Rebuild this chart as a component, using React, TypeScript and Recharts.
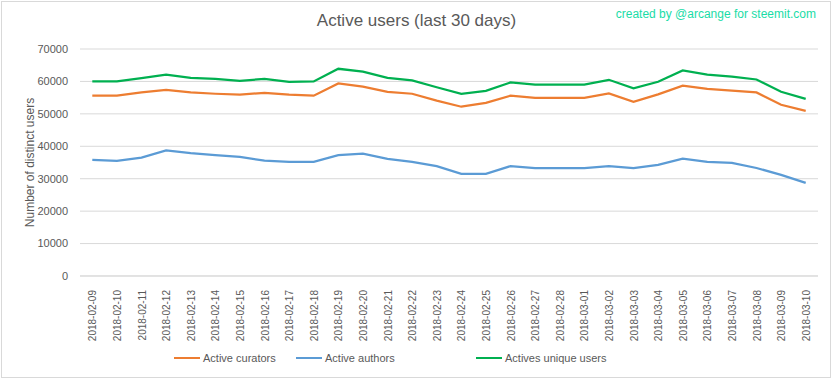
import React from 'react';
import { LineChart, Line, XAxis, YAxis, CartesianGrid, Legend } from 'recharts';

const dates = [
  '2018-02-09', '2018-02-10', '2018-02-11', '2018-02-12', '2018-02-13', '2018-02-14',
  '2018-02-15', '2018-02-16', '2018-02-17', '2018-02-18', '2018-02-19', '2018-02-20',
  '2018-02-21', '2018-02-22', '2018-02-23', '2018-02-24', '2018-02-25', '2018-02-26',
  '2018-02-27', '2018-02-28', '2018-03-01', '2018-03-02', '2018-03-03', '2018-03-04',
  '2018-03-05', '2018-03-06', '2018-03-07', '2018-03-08', '2018-03-09', '2018-03-10',
];

const curators = [
  55600, 55600, 56600, 57400, 56600, 56200, 55900, 56500, 55900, 55600,
  59400, 58400, 56800, 56200, 54100, 52200, 53400, 55600, 54900, 54900,
  54900, 56300, 53700, 56000, 58700, 57700, 57200, 56600, 52800, 50900,
];

const authors = [
  35800, 35500, 36500, 38700, 37900, 37300, 36700, 35600, 35200, 35200,
  37300, 37700, 36100, 35200, 33900, 31500, 31500, 33900, 33300, 33300,
  33300, 33900, 33300, 34300, 36200, 35200, 34900, 33300, 31200, 28700,
];

const uniqueUsers = [
  60000, 60000, 61000, 62100, 61100, 60800, 60200, 60800, 59900, 60000,
  63900, 63000, 61100, 60300, 58200, 56200, 57100, 59700, 59000, 59000,
  59000, 60500, 57900, 59900, 63400, 62100, 61500, 60600, 56800, 54600,
];

const yTicks = [0, 10000, 20000, 30000, 40000, 50000, 60000, 70000];

const series = [
  { key: 'curators', name: 'Active curators', color: '#ED7D31', w: 122 },
  { key: 'authors', name: 'Active authors', color: '#5B9BD5', w: 180 },
  { key: 'unique', name: 'Actives unique users', color: '#00B050', w: 140 },
];

const data = dates.map((d, i) => ({
  date: d,
  curators: curators[i],
  authors: authors[i],
  unique: uniqueUsers[i],
}));

const FONT = '"Liberation Sans", Arial, sans-serif';
const TEXT = '#595959';

const DateTick = (props: any) => {
  const { x, y, payload } = props;
  return (
    <text
      transform={`translate(${x + 4},${y + 6}) rotate(-90)`}
      textAnchor="end"
      fontSize={10}
      fill={TEXT}
      fontFamily={FONT}
    >
      {payload.value}
    </text>
  );
};

const LegendContent = () => (
  <div style={{ display: 'flex', alignItems: 'center', height: 27, paddingLeft: 174, fontFamily: FONT, fontSize: 11, color: TEXT }}>
    {series.map(s => (
      <div key={s.key} style={{ display: 'flex', alignItems: 'center', width: s.w }}>
        <span style={{ display: 'inline-block', width: 26, height: 2, background: s.color, marginRight: 3 }} />
        <span>{s.name}</span>
      </div>
    ))}
  </div>
);

export default function App() {
  return (
    <div style={{ position: 'absolute', left: 0, top: 0, width: 833, height: 379, background: '#fff' }}>
      <div style={{ position: 'absolute', left: 1, top: 1, width: 828, height: 375, border: '1px solid #d9d9d9' }} />
      <div style={{ position: 'absolute', left: 0, width: 833, top: 11, textAlign: 'center', fontFamily: FONT, fontSize: 17, color: TEXT }}>
        Active users (last 30 days)
      </div>
      <div style={{ position: 'absolute', right: 17, top: 7, fontFamily: FONT, fontSize: 12, color: '#19DCA6' }}>
        created by @arcange for steemit.com
      </div>
      <div style={{ position: 'absolute', left: 0, top: 0 }}>
        <LineChart width={833} height={379} data={data} margin={{ top: 49, right: 15, bottom: 8, left: 0 }}>
          <CartesianGrid vertical={false} stroke="#d9d9d9" />
          <XAxis
            dataKey="date"
            interval={0}
            height={68}
            tick={<DateTick />}
            tickLine={false}
            axisLine={{ stroke: '#d9d9d9' }}
            padding={{ left: 12.3, right: 12.3 }}
          />
          <YAxis
            domain={[0, 70000]}
            ticks={yTicks}
            width={80}
            axisLine={false}
            tickLine={false}
            tick={{ fontSize: 11, fill: TEXT, fontFamily: FONT }}
            tickMargin={6}
            label={{
              value: 'Number of distinct users',
              angle: -90,
              position: 'insideLeft',
              offset: 30,
              style: { textAnchor: 'middle', fontSize: 12, fill: TEXT, fontFamily: FONT },
            }}
          />
          <Legend verticalAlign="bottom" height={27} content={<LegendContent />} />
          {series.map(s => (
            <Line
              key={s.key}
              type="linear"
              dataKey={s.key}
              name={s.name}
              stroke={s.color}
              strokeWidth={2.25}
              dot={false}
              isAnimationActive={false}
            />
          ))}
        </LineChart>
      </div>
    </div>
  );
}
